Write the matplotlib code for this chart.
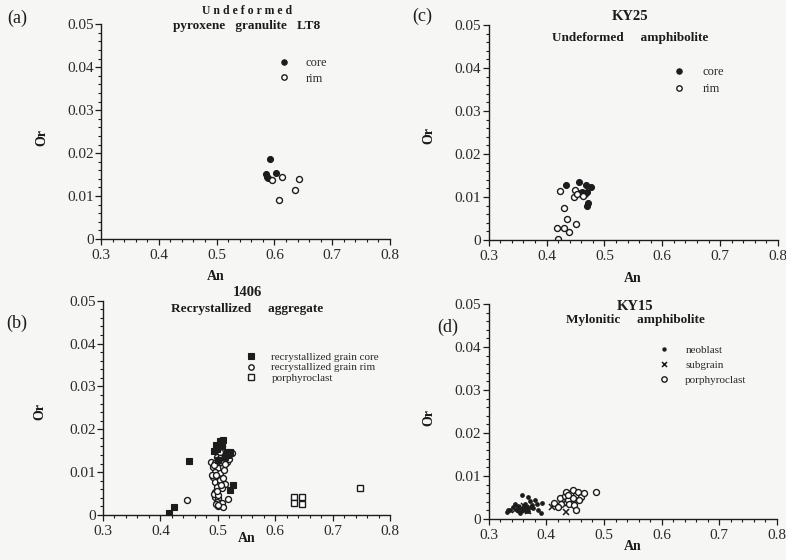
import matplotlib
matplotlib.use("Agg")
import matplotlib.pyplot as plt
from matplotlib.ticker import MultipleLocator, FuncFormatter

plt.rcParams['font.family'] = ['Liberation Serif', 'DejaVu Serif']

W, H = 786, 560
BG = '#f6f6f4'
INK = '#1c1c1c'

# ---- (a) Undeformed pyroxene granulite LT8 ----
a_core_an = [0.592, 0.585, 0.587, 0.589, 0.603]
a_core_or = [0.0186, 0.0152, 0.0144, 0.0141, 0.0153]
a_rim_an = [0.596, 0.614, 0.642, 0.636, 0.6085]
a_rim_or = [0.0137, 0.0145, 0.0139, 0.0113, 0.0091]

# ---- (c) KY25 Undeformed amphibolite ----
c_core_an = [0.433, 0.456, 0.457, 0.462, 0.469, 0.476, 0.470, 0.472, 0.470, 0.466]
c_core_or = [0.0128, 0.0136, 0.0110, 0.0112, 0.0127, 0.0124, 0.0111, 0.0086, 0.0079, 0.0106]
c_rim_an = [0.424, 0.449, 0.447, 0.463, 0.453, 0.430, 0.4355, 0.451, 0.4176, 0.430, 0.439, 0.4193]
c_rim_or = [0.0115, 0.0117, 0.0099, 0.0102, 0.0106, 0.0075, 0.0048, 0.0037, 0.0027, 0.0029, 0.0019, 0.0002]

# ---- (b) 1406 Recrystallized aggregate ----
b_core_an = [0.449, 0.415, 0.424, 0.503, 0.5096, 0.497, 0.498, 0.5155, 0.521, 0.518,
             0.5125, 0.501, 0.526, 0.521, 0.494, 0.508]
b_core_or = [0.0126, 0.0005, 0.0018, 0.0173, 0.0176, 0.0163, 0.0155, 0.0148, 0.0148, 0.0140,
             0.0136, 0.0128, 0.0070, 0.0058, 0.0150, 0.0160]
b_rim_an = [0.446, 0.524, 0.489, 0.495, 0.507, 0.5155, 0.492, 0.501, 0.5096, 0.495,
            0.504, 0.492, 0.501, 0.495, 0.504, 0.5125, 0.498, 0.507, 0.495, 0.495,
            0.501, 0.518, 0.498, 0.507, 0.501, 0.5085, 0.498, 0.504, 0.507, 0.520,
            0.490, 0.497, 0.503, 0.510, 0.493, 0.500, 0.506, 0.496, 0.512, 0.499,
            0.503, 0.494, 0.509, 0.515, 0.500]
b_rim_or = [0.0035, 0.0144, 0.0124, 0.0122, 0.0122, 0.0124, 0.0113, 0.0109, 0.0113, 0.0101,
            0.0097, 0.0089, 0.0086, 0.0078, 0.0074, 0.0072, 0.0066, 0.0062, 0.0054, 0.0043,
            0.0039, 0.0037, 0.0031, 0.0029, 0.0021, 0.0018, 0.0136, 0.0148, 0.0160, 0.0130,
            0.0094, 0.0093, 0.0081, 0.0104, 0.0048, 0.0046, 0.0069, 0.0025, 0.0118, 0.0057,
            0.0132, 0.0117, 0.0087, 0.0140, 0.0024]
b_por_an = [0.633, 0.646, 0.633, 0.646, 0.748]
b_por_or = [0.0043, 0.0043, 0.0027, 0.0026, 0.0062]

# ---- (d) KY15 Mylonitic amphibolite ----
d_neo_an = [0.331, 0.337, 0.3426, 0.3485, 0.3513, 0.357, 0.360, 0.3628, 0.3646, 0.367,
            0.3715, 0.3744, 0.3772, 0.3801, 0.383, 0.3859, 0.390, 0.3918, 0.3542, 0.3455,
            0.3686, 0.3335, 0.358, 0.366, 0.362, 0.373, 0.355, 0.369]
d_neo_or = [0.0017, 0.0022, 0.0029, 0.0021, 0.0030, 0.0056, 0.0025, 0.0036, 0.0019, 0.0029,
            0.0042, 0.0032, 0.0025, 0.0044, 0.0035, 0.0021, 0.0013, 0.0038, 0.0013, 0.0036,
            0.0052, 0.0021, 0.0020, 0.0024, 0.0031, 0.0028, 0.0026, 0.0018]
d_sub_an = [0.4343, 0.4101, 0.446, 0.345, 0.3507, 0.3564, 0.364, 0.368, 0.3606, 0.428]
d_sub_or = [0.0016, 0.0029, 0.0044, 0.0021, 0.0026, 0.0022, 0.0025, 0.0019, 0.0030, 0.0038]
d_por_an = [0.413, 0.423, 0.4316, 0.4373, 0.443, 0.446, 0.4506, 0.4546, 0.4603, 0.4645,
            0.4343, 0.4257, 0.440, 0.4487, 0.4506, 0.4853, 0.420, 0.4574, 0.447, 0.437]
d_por_or = [0.0038, 0.0048, 0.0053, 0.0044, 0.0060, 0.0067, 0.0056, 0.0063, 0.0052, 0.0060,
            0.0063, 0.0035, 0.0035, 0.0032, 0.0021, 0.0063, 0.0029, 0.0044, 0.0050, 0.0055]

x_ticks = [0.3, 0.4, 0.5, 0.6, 0.7, 0.8]
y_ticks = [0.0, 0.01, 0.02, 0.03, 0.04, 0.05]


def px_box(left, top, right, bottom):
    return [left / W, 1 - bottom / H, (right - left) / W, (bottom - top) / H]


def style_axes(ax):
    ax.set_facecolor('none')
    ax.set_xlim(0.3, 0.8)
    ax.set_ylim(0.0, 0.05)
    ax.spines['top'].set_visible(False)
    ax.spines['right'].set_visible(False)
    for s in ('left', 'bottom'):
        ax.spines[s].set_color(INK)
        ax.spines[s].set_linewidth(1.0)
    ax.set_xticks(x_ticks)
    ax.set_yticks(y_ticks)
    ax.xaxis.set_minor_locator(MultipleLocator(0.02))
    ax.yaxis.set_minor_locator(MultipleLocator(0.002))
    ax.xaxis.set_major_formatter(FuncFormatter(lambda v, p: f'{v:.1f}'))
    ax.yaxis.set_major_formatter(FuncFormatter(lambda v, p: '0' if abs(v) < 1e-9 else f'{v:.2f}'))
    ax.tick_params(which='major', direction='out', length=4.5, width=0.9, color=INK,
                   labelsize=11, labelcolor='#2a2a2a')
    ax.tick_params(which='minor', direction='out', length=2.3, width=0.8, color=INK)
    ax.tick_params(axis='y', which='major', pad=0.8)
    ax.tick_params(axis='x', which='major', pad=2.5)


def ftext(x, y, s, **kw):
    fig.text(x / W, 1 - y / H, s, color=INK, **kw)


fig = plt.figure(figsize=(W / 100, H / 100), dpi=100, facecolor=BG)

ax_a = fig.add_axes(px_box(101, 24.3, 390, 239))
ax_c = fig.add_axes(px_box(488.7, 25, 778, 240))
ax_b = fig.add_axes(px_box(103, 300.7, 390, 515))
ax_d = fig.add_axes(px_box(488.7, 304, 777, 519))

for ax in (ax_a, ax_b, ax_c, ax_d):
    style_axes(ax)

filled = dict(linestyle='none', marker='o', ms=4.3, mfc=INK, mec=INK, mew=0.8)
hollow = dict(linestyle='none', marker='o', ms=4.3, mfc='white', mec=INK, mew=1.0)
leg_kw = dict(loc='upper left', frameon=False, handlelength=1.0, borderpad=0,
              labelcolor='#2a2a2a', markerscale=0.9)

# (a)
ax_a.plot(a_core_an, a_core_or, label='core', **filled)
ax_a.plot(a_rim_an, a_rim_or, label='rim', **hollow)
ax_a.legend(bbox_to_anchor=(0.59, 0.875), fontsize=9, handletextpad=1.2,
            labelspacing=0.25, **leg_kw)

# (c)
ax_c.plot(c_core_an, c_core_or, label='core', **filled)
ax_c.plot(c_rim_an, c_rim_or, label='rim', **hollow)
ax_c.legend(bbox_to_anchor=(0.614, 0.838), fontsize=9, handletextpad=1.4,
            labelspacing=0.4, **leg_kw)

# (b)
ax_b.plot(b_rim_an, b_rim_or, label='recrystallized grain rim', **hollow)
ax_b.plot(b_core_an, b_core_or, label='recrystallized grain core', linestyle='none',
          marker='s', ms=4.5, mfc=INK, mec=INK, mew=0.8)
ax_b.plot(b_por_an, b_por_or, label='porphyroclast', linestyle='none',
          marker='s', ms=4.5, mfc='white', mec=INK, mew=1.0)
h, l = ax_b.get_legend_handles_labels()
ax_b.legend([h[1], h[0], h[2]], [l[1], l[0], l[2]], bbox_to_anchor=(0.478, 0.785),
            fontsize=8, handletextpad=1.3, labelspacing=0.05, **leg_kw)

# (d)
ax_d.plot(d_neo_an, d_neo_or, label='neoblast', linestyle='none', marker='o', ms=2.4,
          mfc=INK, mec=INK)
ax_d.plot(d_sub_an, d_sub_or, label='subgrain', linestyle='none', marker='x', ms=4.0,
          mec=INK, mew=1.1)
ax_d.plot(d_por_an, d_por_or, label='porphyroclast', **hollow)
ax_d.legend(bbox_to_anchor=(0.57, 0.833), fontsize=8, handletextpad=1.4,
            labelspacing=0.45, **leg_kw)

# panel letters
ftext(17, 18, '(a)', fontsize=13, ha='center', va='center')
ftext(422, 16, '(c)', fontsize=13, ha='center', va='center')
ftext(17, 323, '(b)', fontsize=13, ha='center', va='center')
ftext(448, 327, '(d)', fontsize=13, ha='center', va='center')

# sample titles
tb = dict(fontsize=9.5, fontweight='bold', ha='center', va='center')
ftext(247, 11, 'U n d e f o r m e d', **dict(tb, fontsize=8.5))
ftext(247, 26, 'pyroxene   granulite   LT8', **tb)
ftext(630, 16, 'KY25', **dict(tb, fontsize=10.5))
ftext(630, 38, 'Undeformed     amphibolite', **tb)
ftext(247, 293, '1406', **dict(tb, fontsize=10.5))
ftext(247, 309, 'Recrystallized     aggregate', **tb)
ftext(635, 306, 'KY15', **dict(tb, fontsize=10.5))
ftext(635, 320, 'Mylonitic     amphibolite', **tb)

# axis titles
lab = dict(fontsize=10, fontweight='bold', ha='center', va='center')
ftext(216, 276, 'An', **lab)
ftext(633, 279, 'An', **lab)
ftext(247, 538, 'An', **lab)
ftext(633, 547, 'An', **lab)
ftext(42, 137, 'Or', rotation=90, **lab)
ftext(429, 135, 'Or', rotation=90, **lab)
ftext(40, 412, 'Or', rotation=90, **lab)
ftext(429, 417, 'Or', rotation=90, **lab)

fig.savefig('out.png', dpi=100, facecolor=BG)
